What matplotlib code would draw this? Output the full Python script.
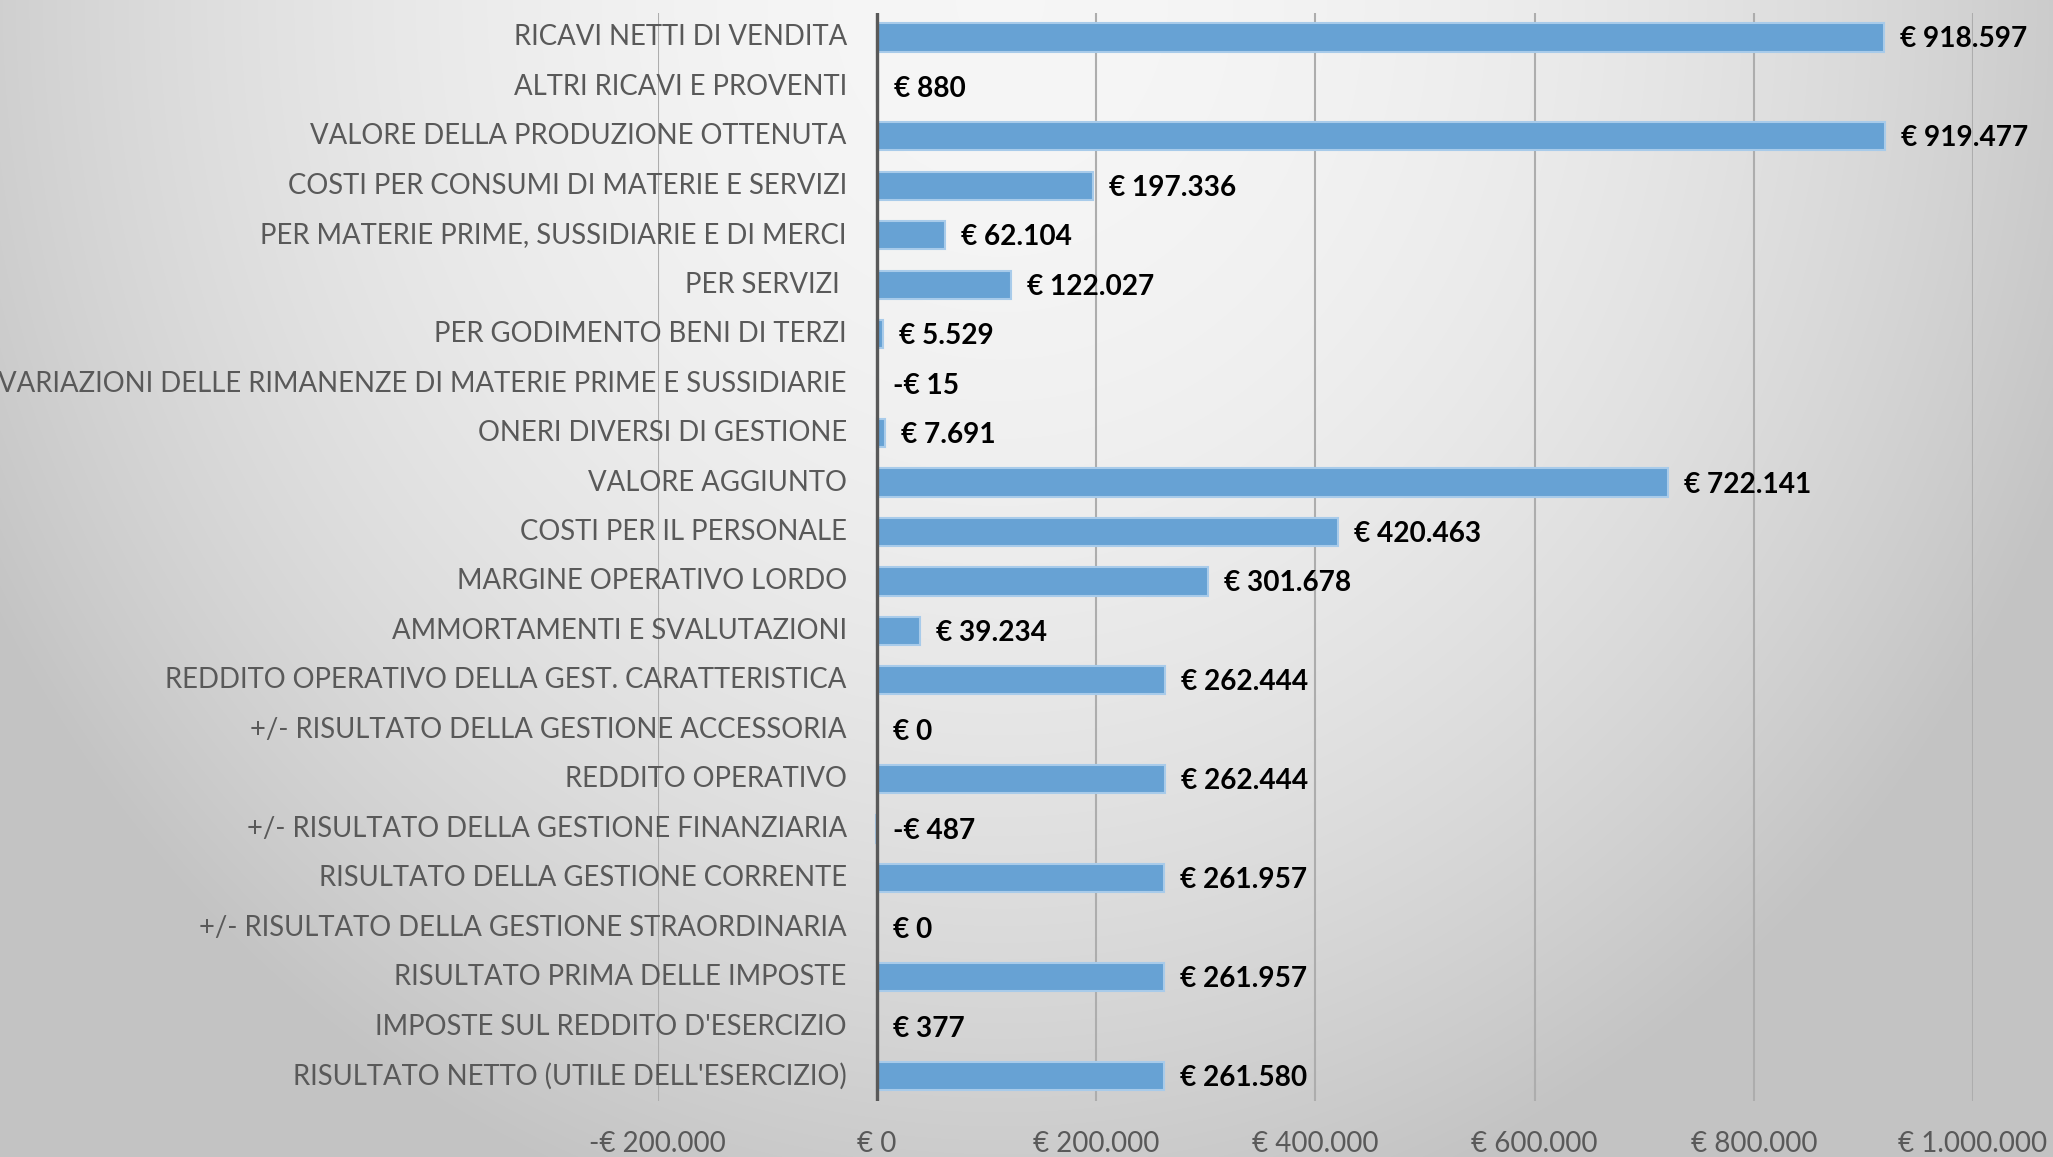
import numpy as np
import matplotlib
matplotlib.use("Agg")
import matplotlib.pyplot as plt
from matplotlib.transforms import offset_copy

categories = [
    "RICAVI NETTI DI VENDITA",
    "ALTRI RICAVI E PROVENTI",
    "VALORE DELLA PRODUZIONE OTTENUTA",
    "COSTI PER CONSUMI DI MATERIE E SERVIZI",
    "PER MATERIE PRIME, SUSSIDIARIE E DI MERCI",
    "PER SERVIZI ",
    "PER GODIMENTO BENI DI TERZI",
    "VARIAZIONI DELLE RIMANENZE DI MATERIE PRIME E SUSSIDIARIE",
    "ONERI DIVERSI DI GESTIONE",
    "VALORE AGGIUNTO",
    "COSTI PER IL PERSONALE",
    "MARGINE OPERATIVO LORDO",
    "AMMORTAMENTI E SVALUTAZIONI",
    "REDDITO OPERATIVO DELLA GEST. CARATTERISTICA",
    "+/- RISULTATO DELLA GESTIONE ACCESSORIA",
    "REDDITO OPERATIVO",
    "+/- RISULTATO DELLA GESTIONE FINANZIARIA",
    "RISULTATO DELLA GESTIONE CORRENTE",
    "+/- RISULTATO DELLA GESTIONE STRAORDINARIA",
    "RISULTATO PRIMA DELLE IMPOSTE",
    "IMPOSTE SUL REDDITO D'ESERCIZIO",
    "RISULTATO NETTO (UTILE DELL'ESERCIZIO)",
]
values = [918597, 880, 919477, 197336, 62104, 122027, 5529, -15, 7691,
          722141, 420463, 301678, 39234, 262444, 0, 262444, -487, 261957,
          0, 261957, 377, 261580]
xticks = [-200000, 0, 200000, 400000, 600000, 800000, 1000000]


def eur(v):
    s = f"{abs(int(v)):,}".replace(",", ".")
    return ("-€ " if v < 0 else "€ ") + s


W, H = 2053, 1157
fig = plt.figure(figsize=(W / 100, H / 100), dpi=100)

# background radial gradient
bg = fig.add_axes([0, 0, 1, 1], zorder=-10)
yy, xx = np.mgrid[0:H, 0:W]
d2 = ((xx - 1000) / 1000.0) ** 2 + ((yy - 0) / 1100.0) ** 2
lum = 0.965 - np.clip(0.15 * d2, 0, 0.2)
bg.imshow(np.dstack([lum, lum, lum]), aspect="auto", extent=[0, 1, 0, 1],
          origin="upper")
bg.axis("off")

ax = fig.add_axes([657.6 / W, 1 - 1100.7 / H, (1973 - 657.6) / W, (1100.7 - 12.7) / H])
ax.patch.set_alpha(0)

n = len(categories)
ypos = np.arange(n)
ax.barh(ypos, values, height=0.57, color="#67a2d4", edgecolor="#a8cbea",
        linewidth=1.5, zorder=3)
ax.set_xlim(-200000, 1000000)
ax.set_ylim(n - 0.5, -0.5)

ax.set_xticks(xticks)
ax.set_xticklabels([eur(t) for t in xticks], fontsize=20, color="#595959",
                   family="Lato")
ax.tick_params(axis="x", length=0, pad=22)
ax.set_yticks([])
for s in ax.spines.values():
    s.set_visible(False)
ax.grid(axis="x", color="#adadad", linewidth=1.5, zorder=1)
ax.axvline(0, color="#595959", linewidth=2.4, zorder=4)

lab_tr = offset_copy(ax.transData, fig=fig, x=-30, y=0, units="dots")
for y, c in zip(ypos, categories):
    ax.text(0, y, c, transform=lab_tr, ha="right", va="center",
            fontsize=19.8, color="#595959", family="Lato", zorder=5)

val_tr = offset_copy(ax.transData, fig=fig, x=16, y=-2, units="dots")
for y, v in zip(ypos, values):
    ax.text(max(v, 0), y, eur(v), transform=val_tr, ha="left", va="center",
            fontsize=20.2, color="black", fontweight="bold", family="Lato",
            zorder=5)

fig.savefig("out.png", dpi=100)
